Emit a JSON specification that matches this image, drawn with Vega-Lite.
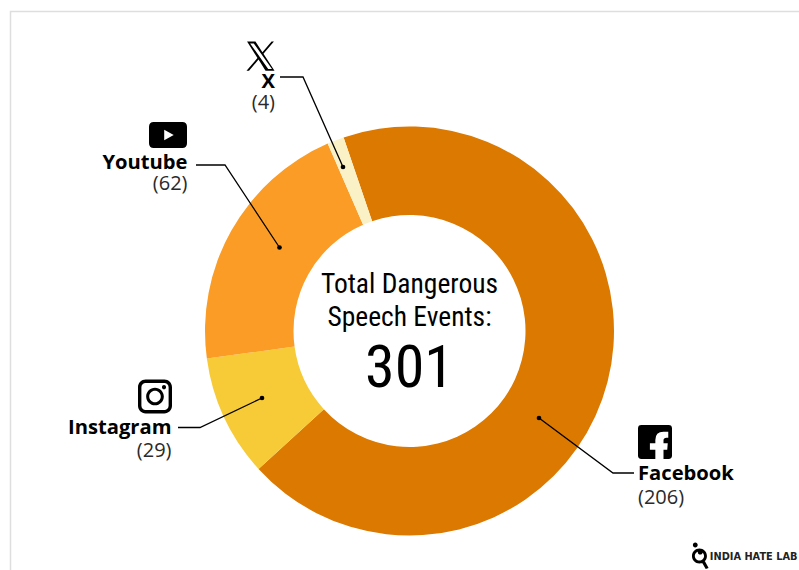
{
"$schema":"https://vega.github.io/schema/vega-lite/v6.json",
"width":799,"height":570,"padding":0,
"autosize":{"type":"none"},
"background":"white",
"config":{"view":{"stroke":null}},
"datasets":{
"segments":[
{"platform":"Facebook","count":206,"rank":1},
{"platform":"Instagram","count":29,"rank":2},
{"platform":"Youtube","count":62,"rank":3},
{"platform":"X","count":4,"rank":4}],
"frame":[{"px":10.5,"py":570,"seq":1},{"px":10.5,"py":11.5,"seq":2},{"px":799,"py":11.5,"seq":3}],
"leaders":[
{"platform":"X","px":343,"py":167,"seq":1},{"platform":"X","px":303,"py":77,"seq":2},{"platform":"X","px":280,"py":77,"seq":3},
{"platform":"Youtube","px":279.5,"py":247.5,"seq":1},{"platform":"Youtube","px":225,"py":165,"seq":2},{"platform":"Youtube","px":196,"py":165,"seq":3},
{"platform":"Instagram","px":262,"py":398,"seq":1},{"platform":"Instagram","px":200,"py":427.5,"seq":2},{"platform":"Instagram","px":178,"py":427.5,"seq":3},
{"platform":"Facebook","px":539,"py":418,"seq":1},{"platform":"Facebook","px":613,"py":473,"seq":2},{"platform":"Facebook","px":634,"py":473,"seq":3}],
"dots":[{"platform":"X","px":343,"py":167},{"platform":"Youtube","px":279.5,"py":247.5},{"platform":"Instagram","px":262,"py":398},{"platform":"Facebook","px":539,"py":418}]
},
"layer":[
{"data":{"name":"frame"},"mark":{"type":"line","stroke":"#dedede","strokeWidth":1.5},
 "encoding":{"x":{"field":"px","type":"quantitative","scale":{"domain":[0,799],"nice":false,"zero":false},"axis":null},
 "y":{"field":"py","type":"quantitative","scale":{"domain":[570,0],"nice":false,"zero":false},"axis":null},"order":{"field":"seq"}}},
{"data":{"name":"segments"},"mark":{"type":"arc","innerRadius":116,"outerRadius":204.5},
 "encoding":{"x":{"datum":409.5},"y":{"datum":331},
 "theta":{"field":"count","type":"quantitative","stack":true,"scale":{"domain":[0,301],"range":[-0.328,5.955]}},
 "order":{"field":"rank"},
 "color":{"field":"platform","type":"nominal","legend":null,"scale":{"domain":["Facebook","Instagram","Youtube","X"],"range":["#dc7900","#f7ca38","#fa9c25","#fbf1c7"]}}}},
{"data":{"name":"leaders"},"mark":{"type":"line","stroke":"#000000","strokeWidth":1.3},
 "encoding":{"x":{"field":"px","type":"quantitative"},"y":{"field":"py","type":"quantitative"},"detail":{"field":"platform"},"order":{"field":"seq"}}},
{"data":{"name":"dots"},"mark":{"type":"circle","size":22,"color":"#000000","opacity":1},
 "encoding":{"x":{"field":"px","type":"quantitative"},"y":{"field":"py","type":"quantitative"}}},
{"data":{"values":[{"text":"Facebook","px":638,"py":480}]},"mark":{"type":"text","font":"Open Sans","fontWeight":"bold","fontSize":20.2,"align":"left","baseline":"alphabetic","color":"#000000"},
 "encoding":{"x":{"field":"px","type":"quantitative"},"y":{"field":"py","type":"quantitative"},"text":{"field":"text"}}},
{"data":{"values":[{"text":"(206)","px":638,"py":504}]},"mark":{"type":"text","font":"Open Sans","fontSize":20,"align":"left","baseline":"alphabetic","color":"#2a2a2a"},
 "encoding":{"x":{"field":"px","type":"quantitative"},"y":{"field":"py","type":"quantitative"},"text":{"field":"text"}}},
{"data":{"values":[{"text":"Youtube","px":187.5,"py":169},{"text":"Instagram","px":171.5,"py":434},{"text":"X","px":275,"py":88}]},"mark":{"type":"text","font":"Open Sans","fontWeight":"bold","fontSize":20.2,"align":"right","baseline":"alphabetic","color":"#000000"},
 "encoding":{"x":{"field":"px","type":"quantitative"},"y":{"field":"py","type":"quantitative"},"text":{"field":"text"}}},
{"data":{"values":[{"text":"(62)","px":187.5,"py":190},{"text":"(29)","px":171.5,"py":457},{"text":"(4)","px":275,"py":109}]},"mark":{"type":"text","font":"Open Sans","fontSize":20,"align":"right","baseline":"alphabetic","color":"#2a2a2a"},
 "encoding":{"x":{"field":"px","type":"quantitative"},"y":{"field":"py","type":"quantitative"},"text":{"field":"text"}}},
{"data":{"values":[{"text":"Total Dangerous","px":409.5,"py":293},{"text":"Speech Events:","px":409.5,"py":326}]},"mark":{"type":"text","font":"'Roboto Condensed','Noto Sans Condensed','Open Sans Condensed','DejaVu Sans Condensed',Roboto","fontSize":27.5,"align":"center","baseline":"alphabetic","color":"#000000"},
 "encoding":{"x":{"field":"px","type":"quantitative"},"y":{"field":"py","type":"quantitative"},"text":{"field":"text"}}},
{"data":{"values":[{"text":"301","px":409.5,"py":387}]},"mark":{"type":"text","font":"'Roboto Condensed','Noto Sans Condensed','Open Sans Condensed','DejaVu Sans Condensed',Roboto","fontSize":60,"align":"center","baseline":"alphabetic","color":"#000000"},
 "encoding":{"x":{"field":"px","type":"quantitative"},"y":{"field":"py","type":"quantitative"},"text":{"field":"text"}}},
{"data":{"values":[{"text":"INDIA HATE LAB","px":797.5,"py":560}]},"mark":{"type":"text","font":"DejaVu Sans","fontWeight":"bold","fontSize":9.8,"align":"right","baseline":"alphabetic","color":"#222222"},
 "encoding":{"x":{"field":"px","type":"quantitative"},"y":{"field":"py","type":"quantitative"},"text":{"field":"text"}}},
{"data":{"values":[{"icon":"youtube","px":168,"py":135}]},"mark":{"type":"point","filled":true,"color":"#000000","opacity":1,"strokeWidth":0,"size":1444,"shape":"M-0.75,-0.684 L0.75,-0.684 Q1,-0.684 1,-0.43 L1,0.43 Q1,0.684 0.75,0.684 L-0.75,0.684 Q-1,0.684 -1,0.43 L-1,-0.43 Q-1,-0.684 -0.75,-0.684 Z M-0.2,-0.28 L-0.2,0.28 L0.3,0 Z"},
 "encoding":{"x":{"field":"px","type":"quantitative"},"y":{"field":"py","type":"quantitative"}}},
{"data":{"values":[{"icon":"instagram","px":155,"py":396.5}]},"mark":{"type":"point","filled":true,"color":"#000000","opacity":1,"strokeWidth":0,"size":1156,"shape":"M-.55,-1 L.55,-1 A.45,.45 0 0 1 1,-.55 L1,.55 A.45,.45 0 0 1 .55,1 L-.55,1 A.45,.45 0 0 1 -1,.55 L-1,-.55 A.45,.45 0 0 1 -.55,-1 Z M-.55,-.8 A.25,.25 0 0 0 -.8,-.55 L-.8,.55 A.25,.25 0 0 0 -.55,.8 L.55,.8 A.25,.25 0 0 0 .8,.55 L.8,-.55 A.25,.25 0 0 0 .55,-.8 Z M-.52,0 A.52,.52 0 1 1 .52,0 A.52,.52 0 1 1 -.52,0 Z M-.34,0 A.34,.34 0 1 0 .34,0 A.34,.34 0 1 0 -.34,0 Z M.41,-.55 A.12,.12 0 1 1 .65,-.55 A.12,.12 0 1 1 .41,-.55 Z"},
 "encoding":{"x":{"field":"px","type":"quantitative"},"y":{"field":"py","type":"quantitative"}}},
{"data":{"values":[{"icon":"facebook","px":655,"py":442}]},"mark":{"type":"point","filled":true,"color":"#000000","opacity":1,"strokeWidth":0,"size":1156,"shape":"M-.8,-1 L.8,-1 Q1,-1 1,-.8 L1,.8 Q1,1 .8,1 L-.8,1 Q-1,1 -1,.8 L-1,-.8 Q-1,-1 -.8,-1 Z M.02,1 L.5,1 L.5,.45 L.72,.45 L.75,.08 L.5,.08 L.5,-.1 Q.5,-.25 .68,-.25 L.78,-.25 L.78,-.6 L.5,-.6 Q.02,-.6 .02,-.12 L.02,.08 L-.3,.08 L-.3,.45 L.02,.45 Z"},
 "encoding":{"x":{"field":"px","type":"quantitative"},"y":{"field":"py","type":"quantitative"}}},
{"data":{"values":[{"icon":"x","px":260.5,"py":56}]},"mark":{"type":"point","filled":true,"color":"#000000","opacity":1,"strokeWidth":0,"size":784,"shape":"M-.96,-1.03 L-.36,-1.03 L.137,-.27 L.79,-1.03 L.96,-1.03 L.212,-.156 L1,1.05 L.36,1.05 L-.142,.258 L-.82,1.05 L-1,1.05 L-.217,.14 Z M-.74,-.9 L.55,.92 L.82,.92 L-.48,-.9 Z"},
 "encoding":{"x":{"field":"px","type":"quantitative"},"y":{"field":"py","type":"quantitative"}}},
{"data":{"values":[{"icon":"logo","px":700,"py":556}]},"mark":{"type":"point","filled":true,"color":"#000000","opacity":1,"strokeWidth":0,"size":484,"shape":"M-.73,0 A.68,.68 0 1 1 .63,0 A.68,.68 0 1 1 -.73,0 Z M-.47,0 A.42,.42 0 1 0 .37,0 A.42,.42 0 1 0 -.47,0 Z M-.65,-1 A.22,.22 0 1 1 -.21,-1 A.22,.22 0 1 1 -.65,-1 Z M-.2,-.35 A.22,.22 0 1 1 .24,-.35 A.22,.22 0 1 1 -.2,-.35 Z M.18,.6 L.45,.48 L.78,1.08 L.52,1.18 Z"},
 "encoding":{"x":{"field":"px","type":"quantitative"},"y":{"field":"py","type":"quantitative"}}}
]
}
